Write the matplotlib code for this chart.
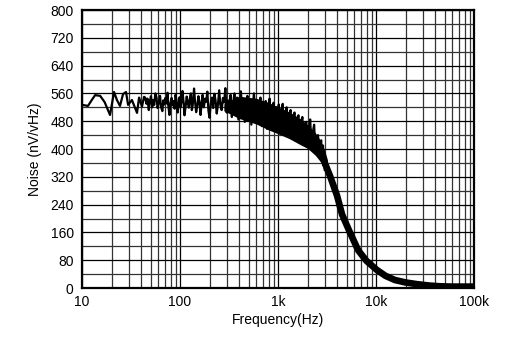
import numpy as np
import matplotlib.pyplot as plt
from matplotlib.ticker import FixedLocator, NullFormatter

plt.rcParams['font.family'] = ['Liberation Sans', 'DejaVu Sans']

# low frequency part of the trace (single wiggly line)
f_low = [10, 11.5, 12.5, 13.6, 15.3, 17.0, 19.3, 21.2, 22.7, 24.4, 26.2, 28.1,
         29.5, 32.3, 36.4, 38.2, 40.9, 42.9]
n_low = [527, 524, 540, 555, 553, 535, 498, 564, 541, 524, 558, 564,
         527, 541, 504, 548, 522, 550]

# noisy plateau, spike to spike
f_noise = [44, 45.5, 46.5, 48, 49, 50.5, 52, 53, 54.5, 56, 57.5, 59, 61, 62.5,
           64, 66, 67.5, 69, 71, 73, 74.5, 76, 78, 80, 82, 84, 86, 88, 90, 92,
           94.5, 97, 99, 101, 104, 106, 109, 111, 114, 117, 120, 123, 126, 129,
           132, 135, 139, 142, 146, 150, 154, 158, 162, 166, 170, 175, 180, 185,
           190, 195, 200, 206, 212, 218, 224, 230, 237, 244, 251, 258, 266, 274,
           282, 290, 299, 308, 318, 328, 338, 348, 359, 370, 382, 394, 406, 418,
           431, 444, 458, 472, 487, 502, 518, 534, 551, 568, 586, 604, 623, 642,
           662, 683, 704, 726, 749, 772, 796, 821, 847, 873, 900, 928, 957, 987,
           1018, 1050, 1083, 1117, 1152, 1188, 1225, 1263, 1302, 1343, 1385,
           1428, 1473, 1519, 1566, 1615, 1665, 1717, 1771, 1826, 1883, 1942,
           2003, 2065, 2130, 2196, 2265, 2335, 2408, 2483, 2560, 2640, 2722,
           2760, 2800, 2840, 2880, 2920, 2960, 3000]
n_noise = [548, 530, 545, 512, 535, 552, 520, 541, 527, 560, 548, 518, 536,
           553, 521, 509, 540, 528, 547, 531, 562, 524, 498, 533, 547, 526,
           538, 516, 556, 541, 505, 528, 549, 520, 539, 567, 530, 497, 522,
           551, 533, 519, 545, 560, 512, 528, 574, 540, 506, 524, 552, 535,
           498, 530, 556, 520, 545, 536, 565, 510, 490, 532, 548, 518, 559,
           541, 502, 530, 569, 526, 512, 547, 534, 575, 505, 540, 520, 556,
           492, 533, 560, 515, 548, 485, 527, 566, 509, 544, 478, 530, 553,
           500, 537, 470, 520, 560, 496, 541, 480, 527, 548, 466, 533, 510,
           538, 458, 522, 545, 470, 515, 533, 452, 520, 498, 528, 445, 510,
           530, 448, 503, 520, 437, 496, 512, 430, 488, 505, 426, 480, 497,
           418, 470, 492, 412, 465, 478, 405, 458, 485, 400, 447, 470, 394,
           432, 440, 380, 420, 425, 365, 405, 410, 352, 380, 340]

# envelope of the dense region
f_band = [280, 400, 600, 800, 1000, 1300, 1700, 2000, 2400, 2700, 3000, 3200]
n_hi = [530, 552, 546, 534, 521, 507, 487, 470, 447, 425, 395, 368]
n_lo = [510, 488, 472, 455, 444, 430, 412, 402, 382, 364, 340, 318]

# roll-off
f_roll = [3000, 3400, 4000, 4500, 5300, 6300, 6600, 8000, 10200, 12500, 15600,
          20000, 26300, 35000, 44600, 60000, 100000]
n_roll = [360, 322, 266, 212, 166, 120, 108, 78, 52, 35, 23, 16, 11, 7, 5, 4, 4]

fig = plt.figure(figsize=(5.16, 3.39), dpi=100)
ax = fig.add_axes([0.159, 0.1504, 0.7596, 0.8201])

ax.fill_between(f_band, n_lo, n_hi, color='black', lw=0)
ax.plot(f_low + f_noise, n_low + n_noise, color='black', lw=1.6)
ax.plot(f_roll, n_roll, color='black', lw=4.8, solid_capstyle='butt')

ax.set_xscale('log')
ax.set_xlim(10, 100000)
ax.set_ylim(0, 800)

xt = [10, 100, 1000, 10000, 100000]
ax.set_xticks(xt)
ax.set_xticklabels(['10', '100', '1k', '10k', '100k'])
minors = [m * d for d in [10, 100, 1000, 10000] for m in range(2, 10)]
ax.xaxis.set_minor_locator(FixedLocator(minors))
ax.xaxis.set_minor_formatter(NullFormatter())

ax.set_yticks(np.arange(0, 801, 80))
ax.yaxis.set_minor_locator(FixedLocator(np.arange(40, 800, 80)))

ax.grid(True, which='major', color='black', lw=0.9)
ax.grid(True, which='minor', color='0.2', lw=0.9)
ax.set_axisbelow(True)

ax.tick_params(which='both', length=0, labelsize=10)
ax.tick_params(axis='y', pad=6)
ax.tick_params(axis='x', pad=5)

for s in ax.spines.values():
    s.set_linewidth(1.6)

ax.set_xlabel('Frequency(Hz)', fontsize=10, labelpad=3)
ax.set_ylabel('Noise (nV/vHz)', fontsize=10, labelpad=6)

fig.savefig('out.png', dpi=100)
